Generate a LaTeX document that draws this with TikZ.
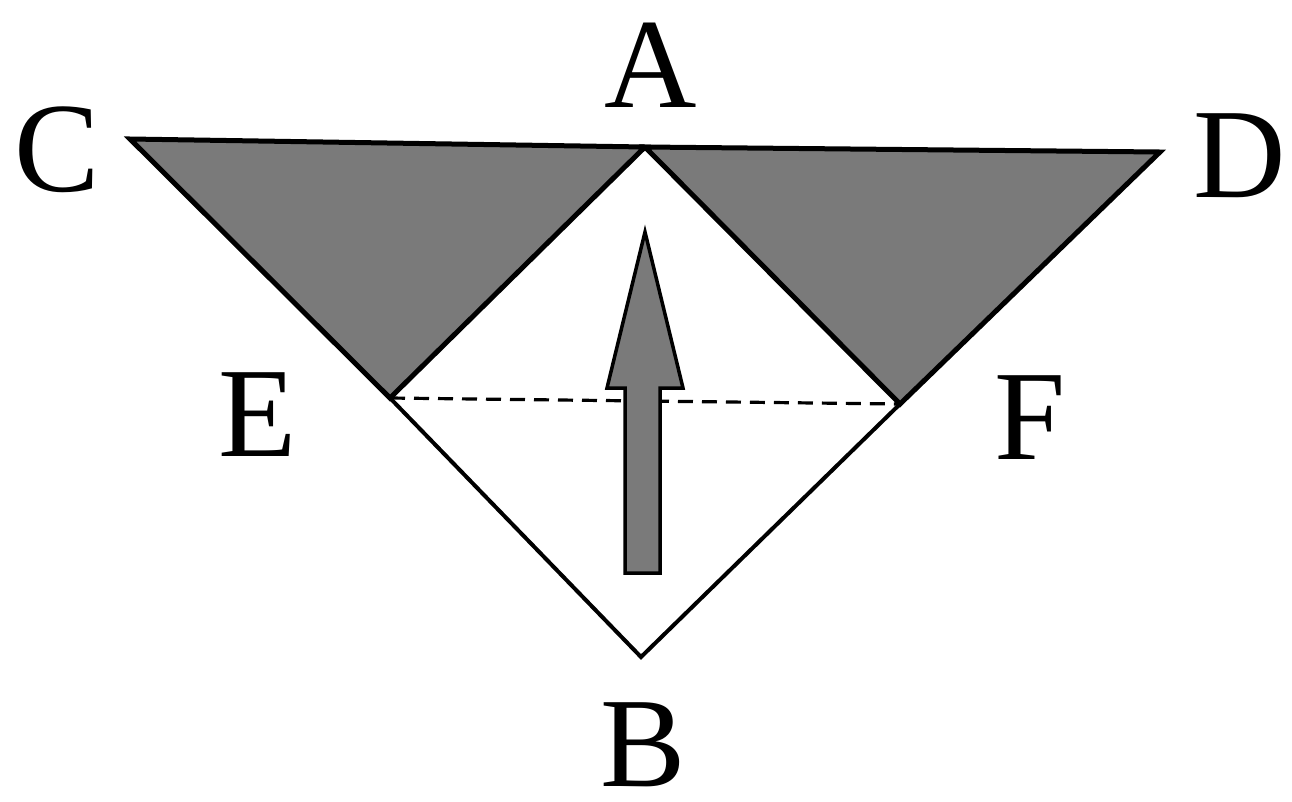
\documentclass[tikz,border=0pt]{standalone}
\usepackage{fontspec}
\setmainfont{Liberation Serif}
\begin{document}
\begin{tikzpicture}[x=1pt,y=-1pt,
  lbl/.style={inner sep=0pt,font=\fontsize{128}{128}\selectfont},
  edge/.style={line width=5pt,line join=miter},
  shade/.style={fill=black!52}]
\useasboundingbox (0,0) rectangle (1292,801);
\coordinate (C) at (130,139);
\coordinate (A) at (645,147);
\coordinate (D) at (1160,152);
\coordinate (E) at (390,398);
\coordinate (F) at (900,404);
\coordinate (B) at (641,657);
% shaded triangles
\filldraw[shade,edge] (C) -- (A) -- (E) -- cycle;
\filldraw[shade,edge] (A) -- (D) -- (F) -- cycle;
% diamond lower part
\draw[edge,line width=4pt] (E) -- (B) -- (F);
% dashed line
\draw[line width=3.2pt,dash pattern=on 15pt off 9pt] (E) -- (F);
% arrow
\filldraw[shade,line width=3.5pt] (625,573) -- (625,388) -- (607,388) -- (645,232) -- (683,388) -- (660,388) -- (660,573) -- cycle;
% labels
\node[lbl] (lA) at (651,65) {A};
\node[lbl] (lC) at (57,150) {C};
\node[lbl] (lD) at (1240,156) {D};
\node[lbl] (lE) at (258,415) {E};
\node[lbl] (lF) at (1030,418) {F};
\node[lbl] (lB) at (643,745) {B};
\end{tikzpicture}
\end{document}
